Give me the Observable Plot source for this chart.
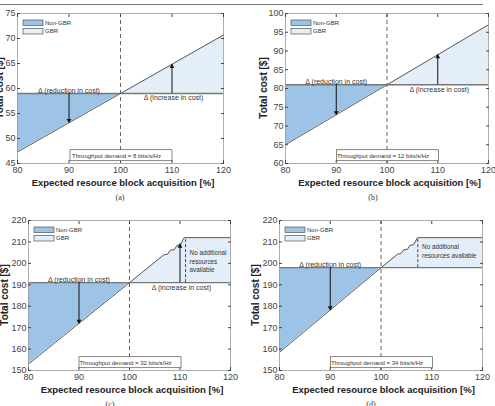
<!DOCTYPE html>
<html><head><meta charset="utf-8">
<script src="https://cdn.jsdelivr.net/npm/d3@7"></script>
<script src="https://cdn.jsdelivr.net/npm/@observablehq/plot@0.6"></script>
<style>
body{margin:0;background:#fff;}
#root{position:relative;width:495px;height:406px;overflow:hidden;font-family:"Liberation Sans",Arial,sans-serif;}
.panel{position:absolute;}
.panel svg{overflow:hidden;}
.cap{position:absolute;font-family:"Liberation Serif","Times New Roman",serif;font-size:8px;color:#333;transform:translate(-50%,-50%);white-space:nowrap;}
#topline{position:absolute;left:0;top:4px;width:483px;height:0;border-top:1px solid #777;}
</style></head><body><div id="root"><div id="topline"></div></div>
<script>
// ---------- data ----------
const xTicks = [80, 90, 100, 110, 120];
const captions = ["(a)", "(b)", "(c)", "(d)"];
const demands = [8, 12, 32, 34];
const baselines = [59, 81, 191, 198];
const yDomains = [[45, 75], [60, 100], [150, 220], [150, 220]];
const yTicksA = [45, 50, 55, 60, 65, 70, 75];
const yTicksB = [60, 65, 70, 75, 80, 85, 90, 95, 100];
const yTicksCD = [150, 160, 170, 180, 190, 200, 210, 220];

const nonGbrX = [80, 100];
const nonGbrYA = [47.3, 59];
const nonGbrYB = [65, 81];
const nonGbrYC = [153, 191];
const nonGbrYD = [158.5, 198];

const gbrXA = [100, 120];
const gbrYA = [59, 70.7];
const gbrXB = [100, 120];
const gbrYB = [81, 97];
const gbrXC = [100, 106.8, 107.5, 108.1, 108.9, 109.4, 110.1, 110.8, 120];
const gbrYC = [191, 204, 204.2, 206.2, 206.4, 208.4, 208.6, 212, 212];
const gbrXD = [100, 103.3, 103.9, 104.5, 105.2, 105.7, 106.4, 107.2, 120];
const gbrYD = [198, 204.3, 204.5, 206.3, 206.5, 208.4, 208.6, 212, 212];

const arrowXA = [90, 110], arrowYA = [53.2, 64.8];
const arrowXB = [90, 110], arrowYB = [73, 89];
const arrowXC = [90, 110], arrowYC = [172, 209];
const arrowXD = [90], arrowYD = [178.3];

const reductionLabel = "Δ (reduction in cost)";
const increaseLabel = "Δ (increase in cost)";
const legendLabels = ["Non-GBR", "GBR"];
const noResLabelC = "No additional\nresources\navailable";
const noResLabelD = "No additional\nresources available";
const limitXC = 111.1, limitXD = 107.25, plateau = 212;
const xTitle = "Expected resource block acquisition [%]";
const yTitle = "Total cost [$]";

// ---------- layout ----------
const geom = [
  {left: 0,   top: 0,   width: 245, height: 190, ml: 17, mr: 22, mt: 13, mb: 27, ylx: -1},
  {left: 245, top: 0,   width: 250, height: 190, ml: 40, mr: 7,  mt: 13, mb: 27, ylx: 18},
  {left: 0,   top: 200, width: 245, height: 200, ml: 28, mr: 15, mt: 20, mb: 30, ylx: 4},
  {left: 245, top: 200, width: 250, height: 200, ml: 34, mr: 13, mt: 20, mb: 30, ylx: 10}
];
const capPos = [[120, 197], [373, 197], [110, 404], [371, 404]];

const panels = [
  {nonY: nonGbrYA, gbrX: gbrXA, gbrY: gbrYA, ax: arrowXA, ay: arrowYA, yTicks: yTicksA, inc: true},
  {nonY: nonGbrYB, gbrX: gbrXB, gbrY: gbrYB, ax: arrowXB, ay: arrowYB, yTicks: yTicksB, inc: true},
  {nonY: nonGbrYC, gbrX: gbrXC, gbrY: gbrYC, ax: arrowXC, ay: arrowYC, yTicks: yTicksCD, inc: true,
   limitX: limitXC, noRes: noResLabelC, noResX: 111.9, noResY: 201},
  {nonY: nonGbrYD, gbrX: gbrXD, gbrY: gbrYD, ax: arrowXD, ay: arrowYD, yTicks: yTicksCD, inc: false,
   limitX: limitXD, noRes: noResLabelD, noResX: 108.1, noResY: 205.9}
];

const root = document.getElementById("root");
const FONT = "'Liberation Sans', Arial, sans-serif";

panels.forEach((p, i) => {
  const g = geom[i];
  const base = baselines[i];
  const nonData = nonGbrX.map((x, j) => ({x, y1: base, y2: p.nonY[j]}));
  const gbrData = p.gbrX.map((x, j) => ({x, y1: base, y2: p.gbrY[j]}));
  const curve = nonData.concat(gbrData.slice(1));
  const arrows = p.ax.map((x, j) => ({x, y1: base, y2: p.ay[j], up: p.ay[j] > base}));
  const throughput = `Throughput demand = ${demands[i]} bits/s/Hz`;

  const marks = [
    Plot.areaY(nonData, {x: "x", y1: "y1", y2: "y2", fill: "#9dc3e6"}),
    Plot.areaY(gbrData, {x: "x", y1: "y1", y2: "y2", fill: "#e3eef8"}),
    Plot.line(curve, {x: "x", y: "y2", stroke: "#333", strokeWidth: 0.8}),
    Plot.ruleY([base], {stroke: "#777", strokeWidth: 1.3}),
    Plot.ruleX([100], {stroke: "#555", strokeWidth: 0.9, strokeDasharray: "4,3"}),
    Plot.ruleX(arrows, {x: "x", y1: "y1", y2: "y2", stroke: "#111", strokeWidth: 1}),
    Plot.dot(arrows.filter(d => !d.up), {x: "x", y: "y2", symbol: "triangle2", r: 2.3, fill: "#111", rotate: 180, dy: -2.2}),
    Plot.dot(arrows.filter(d => d.up), {x: "x", y: "y2", symbol: "triangle2", r: 2.3, fill: "#111", dy: 2.2}),
    Plot.text([reductionLabel], {x: 90, y: base, lineAnchor: "bottom", dy: -0.5, fontSize: 7, fill: "#333"}),
    Plot.text([throughput], {frameAnchor: "bottom", dy: -7.5, dx: -4, fontSize: 6, fill: "#333", lineAnchor: "middle"}),
    Plot.frame({stroke: "#999", strokeWidth: 0.8}),
    Plot.axisX(xTicks, {anchor: "bottom", tickSize: -3, tickPadding: 6, fontSize: 9, color: "#444"}),
    Plot.axisX(xTicks, {anchor: "top", tickSize: -3, tickFormat: () => "", color: "#444"}),
    Plot.axisY(p.yTicks, {anchor: "left", tickSize: -3, tickPadding: 5, fontSize: 9, color: "#444"}),
    Plot.axisY(p.yTicks, {anchor: "right", tickSize: -3, tickFormat: () => "", color: "#444"})
  ];
  if (p.inc) marks.push(Plot.text([increaseLabel], {x: 110.3, y: base, lineAnchor: "top", dy: 2, fontSize: 7, fill: "#333"}));
  if (p.limitX) {
    marks.push(Plot.ruleX([p.limitX], {y1: base, y2: plateau, stroke: "#333", strokeWidth: 0.9, strokeDasharray: "3,2"}));
    marks.push(Plot.text([p.noRes], {x: p.noResX, y: p.noResY, textAnchor: "start", lineAnchor: "middle", lineHeight: 1.35, fontSize: 6.3, fill: "#333"}));
  }

  const chart = Plot.plot({
    width: g.width, height: g.height,
    marginLeft: g.ml, marginRight: g.mr, marginTop: g.mt, marginBottom: g.mb,
    style: {fontFamily: FONT, background: "transparent"},
    x: {domain: [80, 120], label: null},
    y: {domain: yDomains[i], label: null},
    marks
  });

  const div = document.createElement("div");
  div.className = "panel";
  div.style.left = g.left + "px";
  div.style.top = g.top + "px";
  div.appendChild(chart);
  root.appendChild(div);

  const svg = d3.select(chart);
  const fl = g.ml, ft = g.mt, fr = g.width - g.mr, fb = g.height - g.mb;

  // legend
  legendLabels.forEach((lab, k) => {
    svg.append("rect").attr("x", fl + 6).attr("y", ft + 7 + k * 8.5).attr("width", 20).attr("height", 5.5)
      .attr("fill", k === 0 ? "#9dc3e6" : "#e3eef8").attr("stroke", "#555").attr("stroke-width", 0.7);
    svg.append("text").attr("x", fl + 28).attr("y", ft + 9.75 + k * 8.5).attr("dy", "0.35em")
      .attr("text-anchor", "start")
      .attr("font-size", 6).attr("fill", "#333").attr("font-family", FONT).text(lab);
  });

  // throughput box (white, covers dashed line), then raise its text
  const sx = chart.scale("x");
  const cx = sx.apply(100);
  svg.append("rect").attr("x", cx - 50).attr("y", fb - 13.3).attr("width", 102).attr("height", 11)
    .attr("fill", "#fff").attr("stroke", "#555").attr("stroke-width", 0.7);
  svg.selectAll("text").filter(function () { return this.textContent === throughput; })
    .each(function () { chart.appendChild(this.parentNode); });

  // axis titles
  svg.append("text").attr("x", (fl + fr) / 2 + 3).attr("y", fb + 19.5).attr("dy", "0.35em")
    .attr("text-anchor", "middle").attr("font-size", 9.5).attr("font-weight", "bold")
    .attr("fill", "#222").attr("font-family", FONT).text(xTitle);
  svg.append("text").attr("transform", `translate(${g.ylx},${(ft + fb) / 2}) rotate(-90)`).attr("dy", "0.35em")
    .attr("text-anchor", "middle").attr("font-size", 10).attr("font-weight", "bold")
    .attr("fill", "#222").attr("font-family", FONT).text(yTitle);

  const cap = document.createElement("div");
  cap.className = "cap";
  cap.style.left = capPos[i][0] + "px";
  cap.style.top = capPos[i][1] + "px";
  cap.textContent = captions[i];
  root.appendChild(cap);
});
</script></body></html>
